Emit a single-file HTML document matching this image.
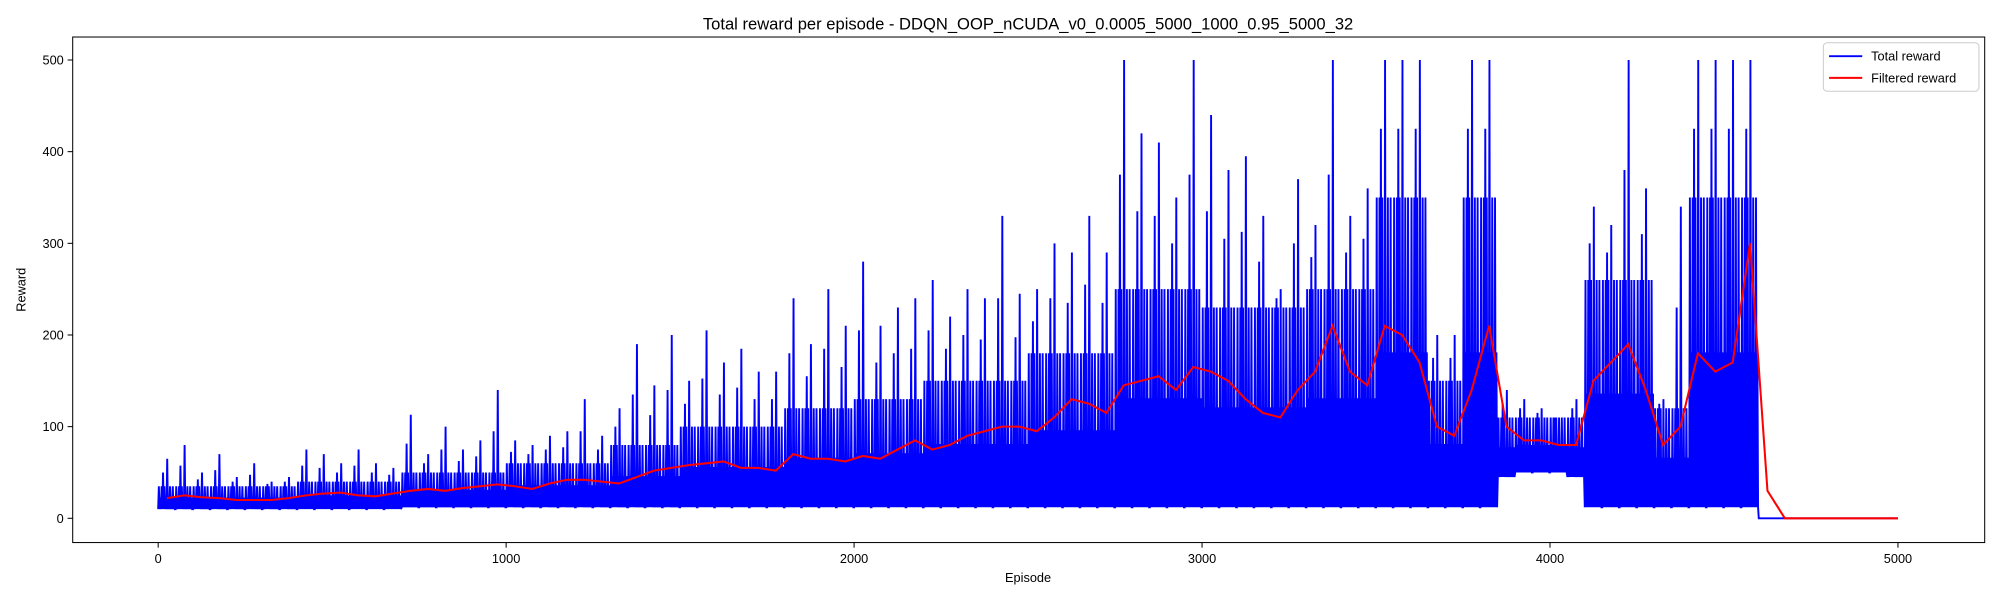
<!DOCTYPE html>
<html><head><meta charset="utf-8"><style>
body{margin:0;background:#fff;}
svg{display:block;font-family:"Liberation Sans","DejaVu Sans",sans-serif;}
</style></head><body>
<svg id="chart" width="2000" height="600" viewBox="0 0 1568 470" preserveAspectRatio="none">
<rect width="1568" height="470" fill="#fff"/>
<text x="806" y="23" text-anchor="middle" font-size="13">Total reward per episode - DDQN_OOP_nCUDA_v0_0.0005_5000_1000_0.95_5000_32</text>
<defs><clipPath id="clip"><rect x="57" y="29" width="1499" height="396"/></clipPath></defs>
<g id="plot" clip-path="url(#clip)"></g>
<rect x="57" y="29" width="1499" height="396" fill="none" stroke="#000" stroke-width="0.8"/>
<g id="axes"></g>
<text x="806" y="456" text-anchor="middle" font-size="10">Episode</text>
<text x="0" y="0" text-anchor="middle" font-size="10" transform="translate(20,227) rotate(-90)">Reward</text>
<g>
<rect x="1429.5" y="33.5" width="122" height="38" rx="3" fill="#fff" stroke="#ccc" stroke-width="0.8"/>
<line x1="1434" y1="44" x2="1460" y2="44" stroke="#0000ff" stroke-width="1.5"/>
<text x="1467" y="47.5" font-size="10">Total reward</text>
<line x1="1434" y1="61" x2="1460" y2="61" stroke="#ff0000" stroke-width="1.5"/>
<text x="1467" y="64.5" font-size="10">Filtered reward</text>
</g>
</svg>
<script>
const binSize = 50;
const peakReward = [65,80,50,70,45,60,40,45, 75,70,60,75,60,55, 113,70,100,75,85,140, 85,80,90,95,130,90, 120,190,145,200, 150,205,170,185,160,160, 240,190,250,210, 280,210,230,240, 260,220,250,240,330,245, 250,300,290,330,290, 500, 420,410,350,500, 440,380,395,330,250,370, 320,500,330,360, 500,500,500, 200,200, 500,500, 140,130,120,110,130, 340,320,500,360, 130,340, 500,500,500,500, 0,0,0,0,0,0,0,0];
const bandReward = [35,35,35,35,35,35,35,35, 40,40,40,40,40,40, 50,50,50,50,50,50, 60,60,60,60,60,60, 80,80,80,80, 100,100,100,100,100,100, 120,120,120,120, 130,130,130,130, 150,150,150,150,150,150, 180,180,180,180,180, 250, 250,250,250,250, 230,230,230,230,230,230, 250,250,250,250, 350,350,350, 150,150, 350,350, 110,110,110,110,110, 260,260,260,260, 120,120, 350,350,350,350, 0,0,0,0,0,0,0,0];
const lowReward = [10,10,10,10,10,10,10,10, 10,10,10,10,10,10, 12,12,12,12,12,12, 12,12,12,12,12,12, 12,12,12,12, 12,12,12,12,12,12, 12,12,12,12, 12,12,12,12, 12,12,12,12,12,12, 12,12,12,12,12, 12, 12,12,12,12, 12,12,12,12,12,12, 12,12,12,12, 12,12,12, 12,12, 12,12, 45,50,50,50,45, 12,12,12,12, 12,12, 12,12,12,12, 0,0,0,0,0,0,0,0];
const filteredReward = [22,25,23,22,20,20,20,22, 25,27,28,25,24,27, 30,32,30,33,35,37, 35,32,38,42,42,40, 38,45,52,55, 58,60,62,55,55,52, 70,65,65,62, 68,65,75,85, 75,80,90,95,100,100, 95,110,130,125,115, 145, 150,155,140,165, 160,150,130,115,110,140, 160,210,160,145, 210,200,170, 100,90, 140,210, 100,85,85,80,80, 150,170,190,140, 80,100, 180,160,170,300, 30,0,0,0,0,0,0,0];
const xTicks = [0,1000,2000,3000,4000,5000];
const yTicks = [0,100,200,300,400,500];

const xS = e => 124 + e * (1488 - 124) / 5000;
const yS = v => 406 - v * (406 - 47) / 500;
const NS = "http://www.w3.org/2000/svg";
const plot = document.getElementById('plot');
const axes = document.getElementById('axes');

let pts = [];
for (let i = 0; i < peakReward.length; i++) {
  const s = i * binSize;
  if (bandReward[i] === 0 && peakReward[i] === 0) {
    pts.push([s, 0]); pts.push([s + binSize, 0]);
    continue;
  }
  for (let k = 0; k < binSize; k += 2) {
    const e = s + k;
    let v;
    if (k % 4 === 0) v = lowReward[i];
    else if (k % 8 === 2) v = bandReward[i];
    else v = (bandReward[i] + lowReward[i]) / 2;
    if (k === 14) v = (peakReward[i] + bandReward[i]) / 2;
    if (k === 26) v = peakReward[i];
    pts.push([e, v]);
  }
}
const totalLine = document.createElementNS(NS, 'polyline');
totalLine.setAttribute('points', pts.map(p => xS(p[0]).toFixed(2) + ',' + yS(p[1]).toFixed(2)).join(' '));
totalLine.setAttribute('fill', 'none');
totalLine.setAttribute('stroke', '#0000ff');
totalLine.setAttribute('stroke-width', '1.5');


plot.appendChild(totalLine);

let fp = [];
for (let i = 0; i < filteredReward.length; i++) fp.push([i * binSize + binSize / 2, filteredReward[i]]);
fp.push([5000, 0]);
const filtLine = document.createElementNS(NS, 'polyline');
filtLine.setAttribute('points', fp.map(p => xS(p[0]).toFixed(2) + ',' + yS(p[1]).toFixed(2)).join(' '));
filtLine.setAttribute('fill', 'none');
filtLine.setAttribute('stroke', '#ff0000');
filtLine.setAttribute('stroke-width', '1.6');


plot.appendChild(filtLine);

xTicks.forEach(t => {
  const l = document.createElementNS(NS, 'line');
  l.setAttribute('x1', xS(t)); l.setAttribute('x2', xS(t));
  l.setAttribute('y1', 425); l.setAttribute('y2', 429);
  l.setAttribute('stroke', '#000'); l.setAttribute('stroke-width', '0.8');
  
  
  axes.appendChild(l);
  const tx = document.createElementNS(NS, 'text');
  tx.setAttribute('x', xS(t)); tx.setAttribute('y', 441);
  tx.setAttribute('text-anchor', 'middle'); tx.setAttribute('font-size', '10');
  tx.textContent = t;
  
  
  axes.appendChild(tx);
});
yTicks.forEach(t => {
  const l = document.createElementNS(NS, 'line');
  l.setAttribute('x1', 53); l.setAttribute('x2', 57);
  l.setAttribute('y1', yS(t)); l.setAttribute('y2', yS(t));
  l.setAttribute('stroke', '#000'); l.setAttribute('stroke-width', '0.8');
  
  
  axes.appendChild(l);
  const tx = document.createElementNS(NS, 'text');
  tx.setAttribute('x', 50); tx.setAttribute('y', yS(t) + 3.5);
  tx.setAttribute('text-anchor', 'end'); tx.setAttribute('font-size', '10');
  tx.textContent = t;
  
  
  axes.appendChild(tx);
});
</script>
</body></html>
